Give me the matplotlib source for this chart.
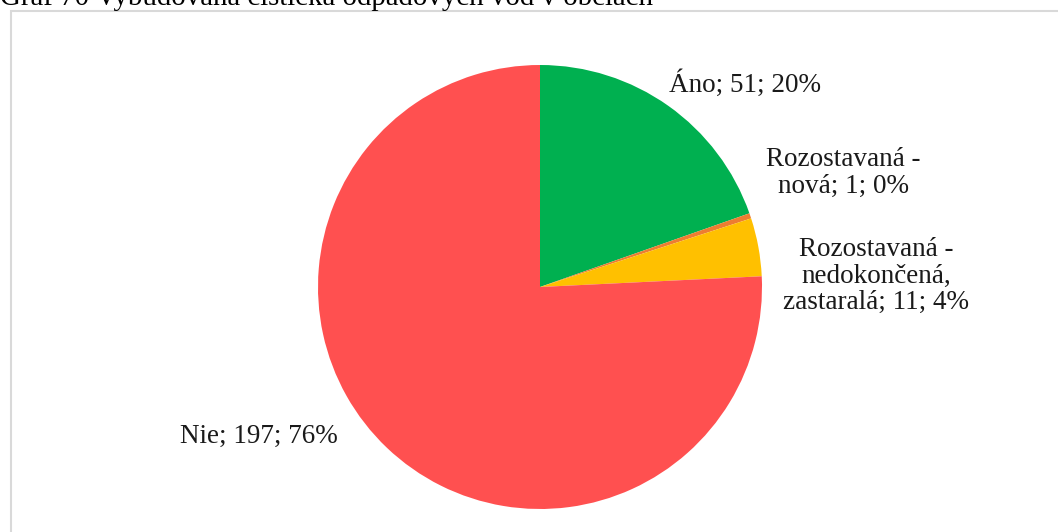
import matplotlib
matplotlib.use("Agg")
import matplotlib.pyplot as plt
from matplotlib.patches import Rectangle

plt.rcParams['font.family'] = ['Liberation Serif', 'DejaVu Serif']

title = "Graf 70 Vybudovaná čistička odpadových vôd v obciach"
categories = ["Áno", "Rozostavaná - nová", "Rozostavaná - nedokončená, zastaralá", "Nie"]
values = [51, 1, 11, 197]
percents = ["20%", "0%", "4%", "76%"]
label_texts = ["Áno; 51; 20%",
               "Rozostavaná -\nnová; 1; 0%",
               "Rozostavaná -\nnedokončená,\nzastaralá; 11; 4%",
               "Nie; 197; 76%"]
colors = ["#00B050", "#ED7D31", "#FFC000", "#FF5050"]

W, H = 1058, 532
fig = plt.figure(figsize=(W / 100, H / 100), dpi=100)

# chart frame (light gray, runs off the right/bottom edges)
fig.patches.append(Rectangle((11 / W, -0.1), 1.2, 1 - 11 / H + 0.1,
                             transform=fig.transFigure, fill=False,
                             edgecolor="#D9D9D9", linewidth=1.5))

# title cut off at top, as in the source
fig.text(0.0, 1 - 5 / H, title, fontsize=20.8, ha="left", va="baseline",
         color="#000000")

cx, cy, r = 540, 287, 222
ax = fig.add_axes([(cx - r) / W, (H - cy - r) / H, 2 * r / W, 2 * r / H])
ax.pie(values, colors=colors, startangle=90, counterclock=False,
       wedgeprops=dict(linewidth=0))
ax.set_xlim(-1, 1)
ax.set_ylim(-1, 1)
ax.axis("off")

# label centres in pixels
label_px = [(745, 84), (843, 173), (876, 276), (259, 436)]
for txt, (px, py) in zip(label_texts, label_px):
    ax.text((px - cx) / r, (cy - py) / r, txt, ha="center", va="center",
            fontsize=19.5, color="#1a1a1a", linespacing=1.1, clip_on=False)

fig.savefig("out.png", dpi=100)
